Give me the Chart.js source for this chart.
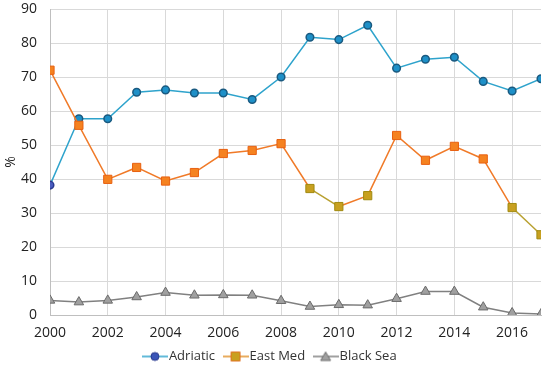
<!DOCTYPE html>
<html>
<head>
<meta charset="utf-8">
<script src="https://cdn.jsdelivr.net/npm/chart.js@4/dist/chart.umd.min.js"></script>
<style>
  html, body { margin: 0; padding: 0; background: #fff; }
  #wrap { width: 550px; height: 367px; }
</style>
</head>
<body>
<div id="wrap"><canvas id="myLineChart"></canvas></div>
<script>
// data
var years = [2000, 2001, 2002, 2003, 2004, 2005, 2006, 2007, 2008,
             2009, 2010, 2011, 2012, 2013, 2014, 2015, 2016, 2017];
var adriatic = [38.2, 57.7, 57.7, 65.5, 66.2, 65.3, 65.3, 63.4, 70.0,
                81.7, 81.0, 85.2, 72.6, 75.2, 75.8, 68.7, 65.9, 69.5];
var eastMed = [72.0, 55.8, 39.9, 43.4, 39.4, 41.9, 47.5, 48.4, 50.4,
               37.2, 31.9, 35.1, 52.8, 45.5, 49.6, 45.9, 31.6, 23.6];
var blackSea = [4.3, 3.8, 4.3, 5.3, 6.6, 5.8, 5.9, 5.8, 4.2,
                2.5, 3.0, 2.9, 4.8, 6.9, 6.9, 2.3, 0.6, 0.3];
var seriesNames = ["Adriatic", "East Med", "Black Sea"];
var xTicks = [2000, 2002, 2004, 2006, 2008, 2010, 2012, 2014, 2016];
var yTicks = [0, 10, 20, 30, 40, 50, 60, 70, 80, 90];

function toPoints(vals) {
    return vals.map(function (v, i) { return { x: years[i], y: v }; });
}

// olive-coloured points of East Med
var olive = [2009, 2010, 2011, 2016, 2017];
function isOlive(i) { return olive.indexOf(years[i]) >= 0; }

// small legend icons: line with marker
function legendIcon(line, fill, border, shape) {
    var c = document.createElement('canvas');
    c.width = 26; c.height = 12;
    var g = c.getContext('2d');
    g.strokeStyle = line; g.lineWidth = 1.5;
    g.beginPath(); g.moveTo(0, 6); g.lineTo(26, 6); g.stroke();
    g.fillStyle = fill; g.strokeStyle = border; g.lineWidth = 1;
    g.beginPath();
    if (shape === 'circle') g.arc(13, 6, 4, 0, Math.PI * 2);
    else if (shape === 'rect') g.rect(8.5, 1.5, 9, 9);
    else { g.moveTo(13, 1.5); g.lineTo(18, 10); g.lineTo(8, 10); g.closePath(); }
    g.fill(); g.stroke();
    return c;
}
var icons = [
    legendIcon('#2ea3cc', '#3a55b8', '#26368a', 'circle'),
    legendIcon('#e0902a', '#c8a020', '#e07020', 'rect'),
    legendIcon('#808080', '#a0a0a0', '#6a6a6a', 'triangle')
];

var ctx = document.getElementById("myLineChart").getContext('2d');
var myLineChart = new Chart(ctx, {
    type: 'line',
    data: {
        datasets: [{
            label: seriesNames[0],
            data: toPoints(adriatic),
            borderColor: '#2ea3cc',
            borderWidth: 1.5,
            pointStyle: 'circle',
            pointRadius: 3.8,
            pointBorderWidth: 1.5,
            pointBackgroundColor: function (c) { return c.dataIndex === 0 ? '#4a5cc0' : '#1e90c8'; },
            pointBorderColor: function (c) { return c.dataIndex === 0 ? '#2a3a90' : '#1a5a80'; },
            fill: false,
            order: 2
        },
        {
            label: seriesNames[1],
            data: toPoints(eastMed),
            borderColor: '#f07a28',
            borderWidth: 1.5,
            segment: {
                borderColor: function (c) {
                    var i = c.p0DataIndex;
                    return (years[i] === 2009 || years[i] === 2016) ? '#b8a030' : '#f07a28';
                }
            },
            pointStyle: 'rect',
            pointRadius: 5.8,
            pointBorderWidth: 1,
            pointBackgroundColor: function (c) { return isOlive(c.dataIndex) ? '#c8a020' : '#f58220'; },
            pointBorderColor: function (c) { return isOlive(c.dataIndex) ? '#a08a10' : '#e86010'; },
            fill: false,
            order: 1
        },
        {
            label: seriesNames[2],
            data: toPoints(blackSea),
            borderColor: '#808080',
            borderWidth: 1.5,
            pointStyle: 'triangle',
            pointRadius: 5.5,
            pointBorderWidth: 1,
            pointBackgroundColor: '#a0a0a0',
            pointBorderColor: '#6a6a6a',
            fill: false,
            order: 3
        }]
    },
    options: {
        responsive: true,
        maintainAspectRatio: false,
        animation: false,
        layout: { padding: { left: 3, right: 9, top: -6, bottom: -6 } },
        plugins: {
            tooltip: { enabled: false },
            legend: {
                position: 'bottom',
                labels: {
                    usePointStyle: true,
                    pointStyleWidth: 15,
                    boxHeight: 12,
                    padding: 13,
                    color: '#333',
                    font: { family: 'Open Sans', size: 13 },
                    generateLabels: function (chart) {
                        return chart.data.datasets.map(function (ds, i) {
                            return {
                                text: ds.label,
                                pointStyle: icons[i],
                                fillStyle: 'transparent',
                                strokeStyle: 'transparent',
                                lineWidth: 0,
                                fontColor: '#333',
                                datasetIndex: i
                            };
                        });
                    }
                }
            }
        },
        scales: {
            x: {
                type: 'linear',
                min: 2000,
                max: 2017,
                afterBuildTicks: function (axis) {
                    axis.ticks = xTicks.map(function (v) { return { value: v }; });
                },
                afterFit: function (axis) { axis.height = 22; },
                ticks: {
                    color: '#222',
                    font: { family: 'Open Sans', size: 14 },
                    maxRotation: 0,
                    autoSkip: false,
                    padding: 10,
                    callback: function (v) { return String(v); }
                },
                grid: { color: '#d9d9d9', drawTicks: false },
                border: { color: '#bfbfbf' }
            },
            y: {
                min: 0,
                max: 90,
                afterBuildTicks: function (axis) {
                    axis.ticks = yTicks.map(function (v) { return { value: v }; });
                },
                afterFit: function (axis) {
                    axis.width = 47;
                    axis.paddingTop = 9;
                },
                ticks: {
                    color: '#222',
                    font: { family: 'Open Sans', size: 14 },
                    padding: 13
                },
                grid: { color: '#d9d9d9', drawTicks: false },
                border: { color: '#bfbfbf' },
                title: {
                    display: true,
                    text: '%',
                    color: '#222',
                    font: { family: 'Open Sans', size: 14 },
                    padding: 0
                }
            }
        }
    }
});
</script>
</body>
</html>
